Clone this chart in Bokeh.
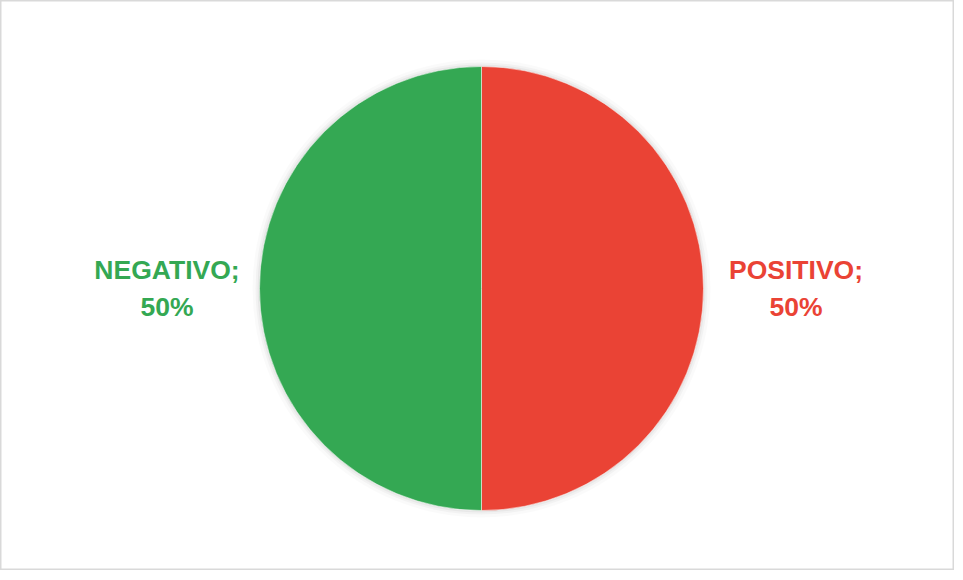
import numpy as np
from bokeh.plotting import figure
from bokeh.models import ColumnDataSource, Range1d
from bokeh.core.properties import value
from bokeh.embed import file_html
from bokeh.resources import INLINE

# ---- data ----
labels = ["POSITIVO", "NEGATIVO"]
values = [50, 50]
colors = ["#EA4335", "#34A853"]

W, H = 954, 570
p = figure(width=W, height=H, output_backend="svg", toolbar_location=None,
           x_range=Range1d(0, W), y_range=Range1d(0, H), min_border=0,
           outline_line_color="#d9d9d9", outline_line_width=2)
p.axis.visible = False
p.grid.visible = False
p.background_fill_color = "white"
p.border_fill_color = "white"

cx, cy, r = 481, 282, 222

vals = np.array(values, dtype=float)
frac = vals / vals.sum()
ends = np.pi / 2 - np.cumsum(frac) * 2 * np.pi
starts = np.concatenate([[np.pi / 2], ends[:-1]])
mids = (starts + ends) / 2

# faint shadow
for rr, a in [(229, 0.02), (226, 0.03), (224, 0.04)]:
    p.circle(x=[cx], y=[cy], radius=rr, fill_color="#000000", fill_alpha=a, line_color=None)

src = ColumnDataSource(dict(x=[cx] * len(vals), y=[cy] * len(vals),
                            start=ends, end=starts, color=colors))
p.wedge(x="x", y="y", radius=r, start_angle="start", end_angle="end",
        fill_color="color", line_color="white", line_width=0.5, source=src)

lr = 314.5
pct = [f"{int(round(f * 100))}%" for f in frac]
txt = [f"{l};\n{pc}" for l, pc in zip(labels, pct)]
lsrc = ColumnDataSource(dict(x=cx + lr * np.cos(mids), y=cy + lr * np.sin(mids),
                             t=txt, c=colors))
p.text(x="x", y="y", text="t", text_color="c", source=lsrc,
       text_font=value("Liberation Sans"), text_font_style="bold",
       text_font_size="26.5px", text_align="center", text_baseline="middle",
       text_line_height=1.21)

open("out.html", "w").write(file_html(p, INLINE))
